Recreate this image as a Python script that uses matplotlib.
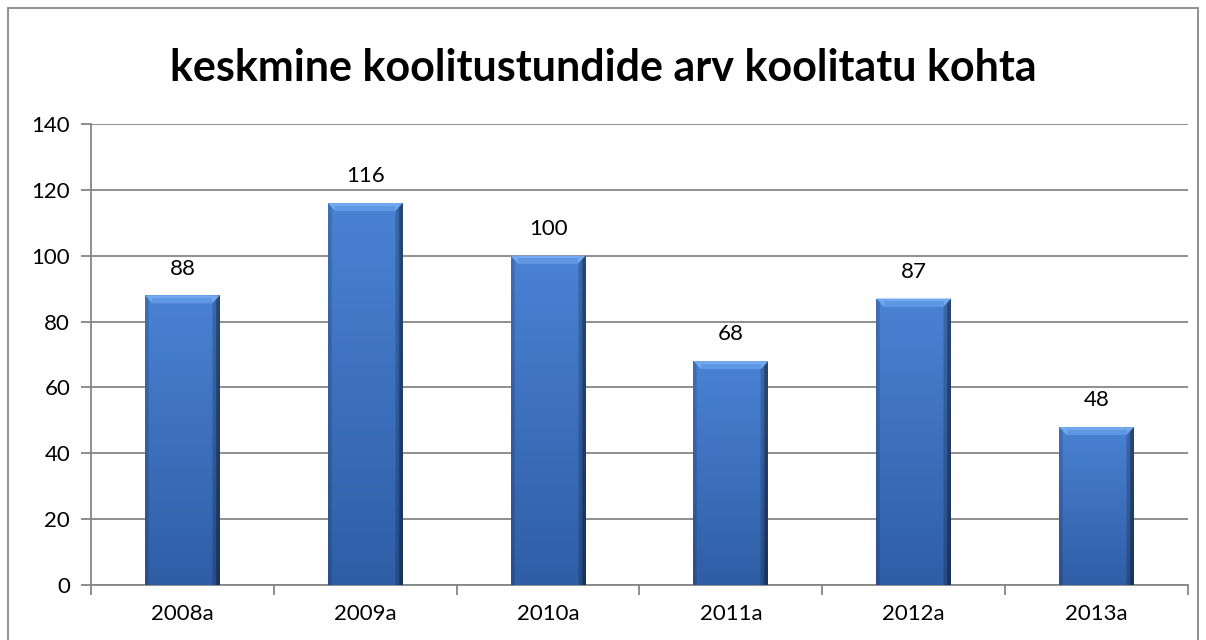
import numpy as np
import matplotlib.pyplot as plt
from matplotlib.patches import Rectangle
from matplotlib.colors import to_rgb

plt.rcParams['font.family'] = ['Lato', 'DejaVu Sans']

years = ["2008a", "2009a", "2010a", "2011a", "2012a", "2013a"]
hours = [88, 116, 100, 68, 87, 48]
title = "keskmine koolitustundide arv koolitatu kohta"

grid_col = '#868686'

fig = plt.figure(figsize=(12.06, 6.4), dpi=100)
fig.patches.append(Rectangle((8 / 1206, -0.1), 1190 / 1206, 1.1 - 8 / 640,
                             transform=fig.transFigure, fill=False,
                             edgecolor='#888888', linewidth=1.3))
ax = fig.add_axes([91 / 1206, 55 / 640, 1097 / 1206, 461 / 640])

x = np.arange(len(years))
bars = ax.bar(x, hours, width=0.41, color='#3f74c4', zorder=3)

# shading: top lighter, bottom darker, thin dark edges on the sides
top_c = np.array(to_rgb('#4a82d4'))
bot_c = np.array(to_rgb('#2f5ea6'))
t = np.linspace(0, 1, 80)[:, None, None]
body = top_c * (1 - t) + bot_c * t
cols = np.linspace(0, 1, 80)
side = np.ones_like(cols)
side[cols < 0.05] = 0.85
side[cols > 0.95] = 0.55
side[(cols > 0.9) & (cols <= 0.95)] = 0.8
img = body * side[None, :, None]
img = np.clip(np.repeat(img, 1, axis=1), 0, 1)

for b in bars:
    x0, w, h = b.get_x(), b.get_width(), b.get_height()
    im = ax.imshow(img, aspect='auto', extent=(x0, x0 + w, 0, h), zorder=4, interpolation='bilinear')
    im.set_clip_path(b)
    # light bevel on top
    cap = h - 2.4
    ax.fill([x0, x0 + w, x0 + w * 0.9, x0 + w * 0.1], [h, h, cap, cap],
            color='#72a9ee', zorder=5, lw=0)
    ax.fill([x0 + w * 0.1, x0 + w * 0.9, x0 + w * 0.9, x0 + w * 0.1], [h - 0.8, h - 0.8, cap, cap],
            color='#5e97e2', zorder=5, lw=0)
    ax.annotate(str(b.get_height()), (x0 + w / 2, h), xytext=(0, 12), textcoords='offset points',
                ha='center', va='bottom', fontsize=16)

ax.set_xlim(-0.5, len(years) - 0.5)
ax.set_ylim(0, 140)
ax.set_yticks(range(0, 141, 20))
ax.set_xticks(x)
ax.set_xticklabels(years)
ax.set_xticks(np.arange(-0.5, len(years)), minor=True)
ax.tick_params(axis='x', which='major', length=0, pad=14, labelsize=16)
ax.tick_params(axis='x', which='minor', length=7, color=grid_col, width=1.3)
ax.tick_params(axis='y', length=7, color=grid_col, width=1.3, labelsize=16, pad=8)
ax.yaxis.grid(True, color=grid_col, linewidth=1.3, zorder=0)
ax.set_axisbelow(True)
for s in ['top', 'right']:
    ax.spines[s].set_visible(False)
for s in ['left', 'bottom']:
    ax.spines[s].set_color(grid_col)
    ax.spines[s].set_linewidth(1.3)

fig.text(0.5, 1 - 68 / 640, title, ha='center', va='center', fontsize=31, fontweight='bold')

fig.savefig('out.png', dpi=100)
